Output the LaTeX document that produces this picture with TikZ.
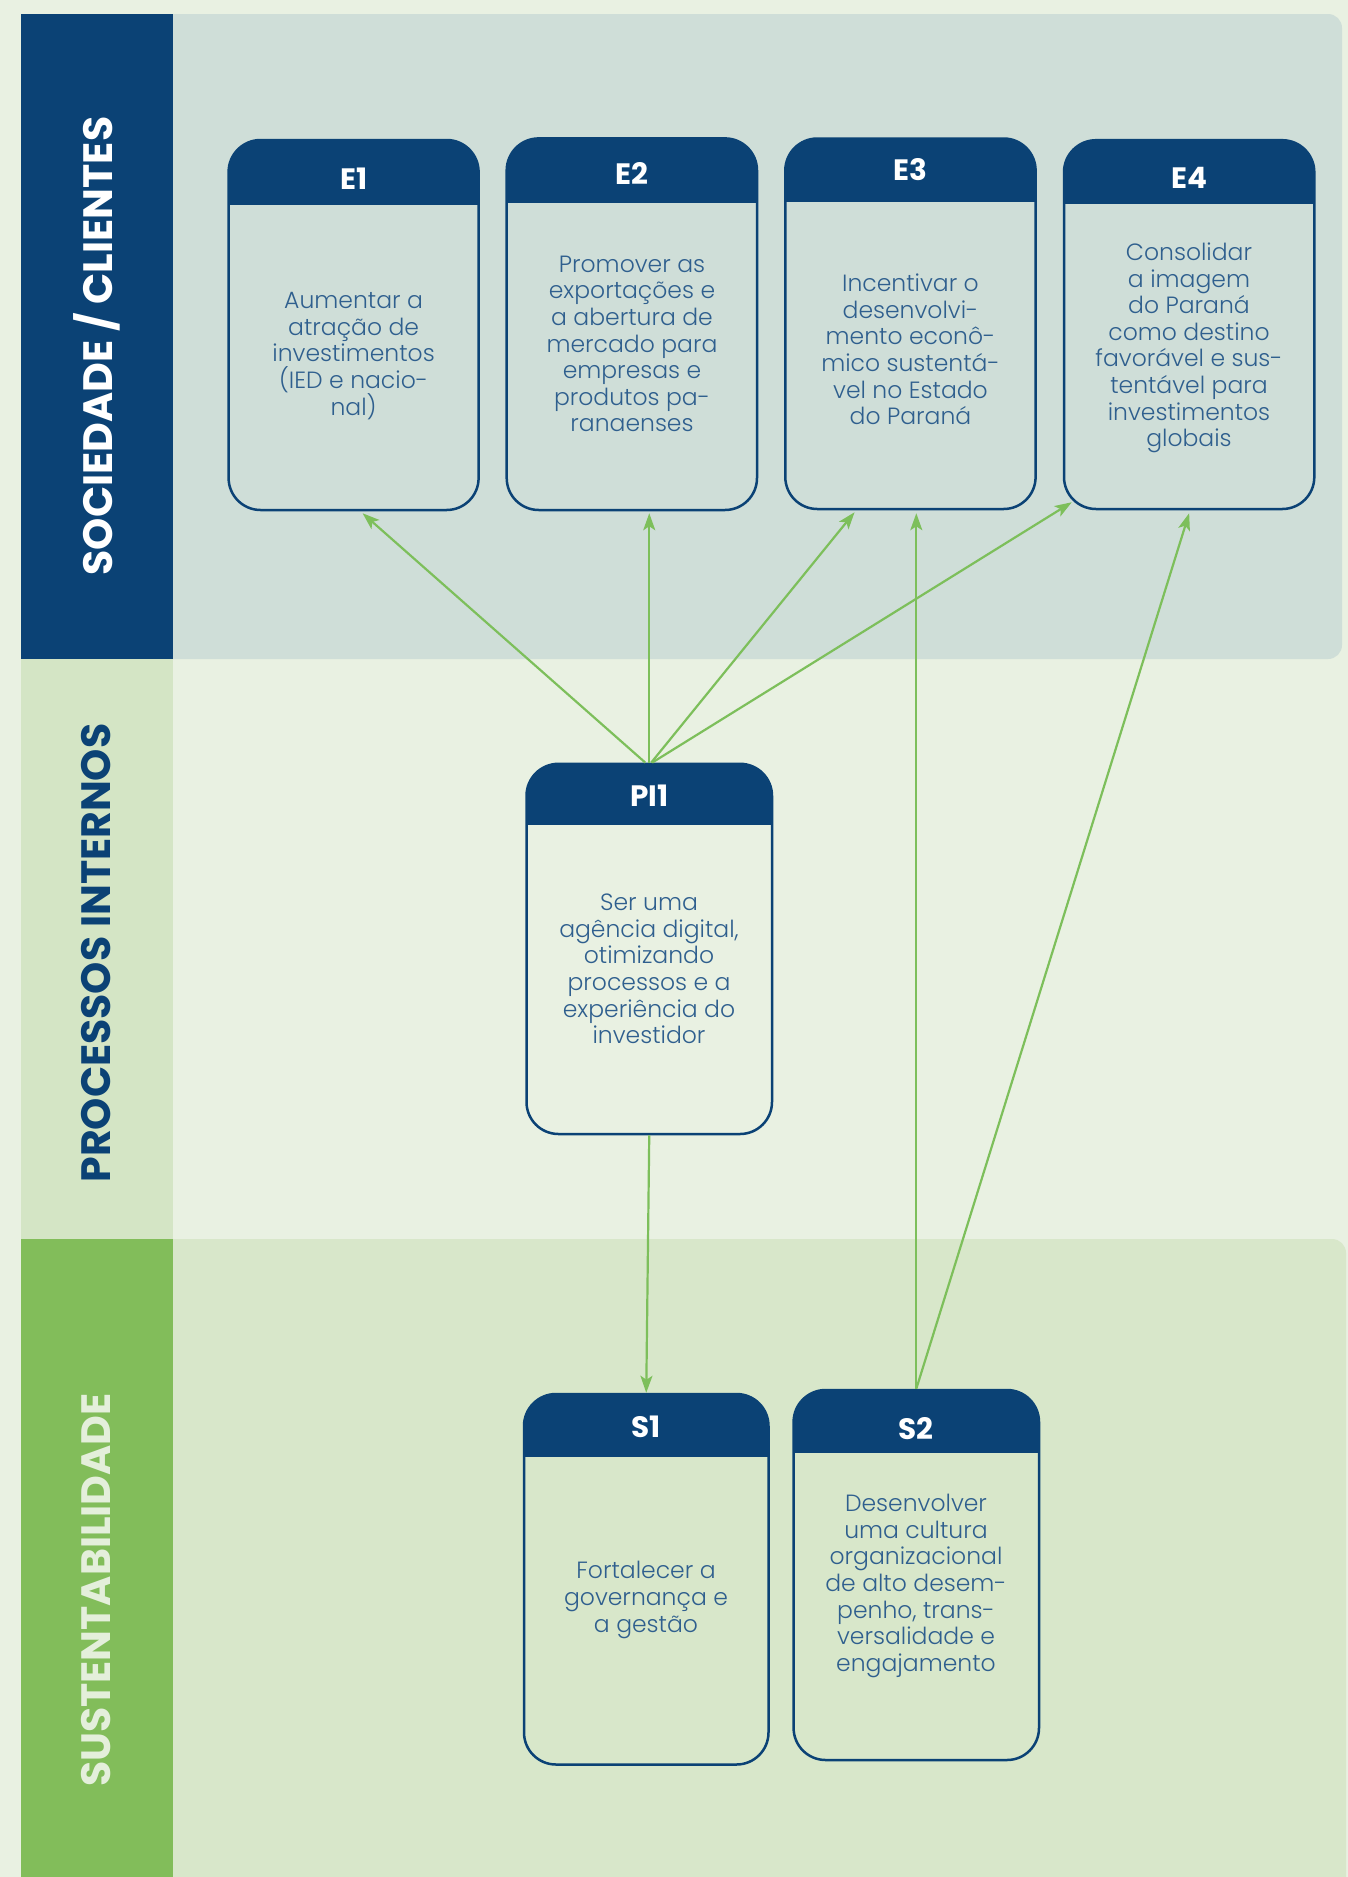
\documentclass[tikz,border=0pt]{standalone}
\usepackage{fontspec}
\usetikzlibrary{arrows.meta,calc}
\newfontfamily\popfont{Poppins}
\IfFontExistsTF{Poppins Light}{\newfontfamily\bodyfont{Poppins Light}}{\newfontfamily\bodyfont{Poppins}}
\definecolor{pagebg}{HTML}{E9F1E2}
\definecolor{bandone}{HTML}{0B4275}
\definecolor{panelone}{HTML}{CFDED8}
\definecolor{bandtwo}{HTML}{D4E5C5}
\definecolor{bandthree}{HTML}{82BD5A}
\definecolor{panelthree}{HTML}{D8E7CA}
\definecolor{hdrblue}{HTML}{0B4275}
\definecolor{txtblue}{HTML}{2F5F8E}
\definecolor{arrgreen}{HTML}{7DBF5B}
\definecolor{lightlbl}{HTML}{E4EFDB}
\tikzset{
  boxframe/.style={draw=hdrblue, line width=2.5pt, rounded corners=32pt, rectangle, inner sep=0pt},
  hdrlabel/.style={text=white, font=\popfont\bfseries\fontsize{29.5}{32}\selectfont, inner sep=0pt},
  bodytxt/.style={text=txtblue, align=center, inner sep=0pt, font=\bodyfont\fontsize{23.5}{26.6}\selectfont},
  bandtitle/.style={rotate=90, inner sep=0pt, font=\popfont\bfseries\fontsize{41}{44}\selectfont},
  arr/.style={draw=arrgreen, line width=2.2pt, -{Stealth[length=17pt,width=12pt,inset=4pt]}}
}
% #1 name, #2 x1, #3 y1, #4 x2, #5 y2, #6 header bottom, #7 label y, #8 label
\newcommand\mkbox[8]{%
  \begin{scope}
    \clip[rounded corners=32pt] (#2,#3) rectangle (#4,#5);
    \fill[hdrblue] (#2,#3) rectangle (#4,#6);
  \end{scope}
  \node[boxframe, minimum width={#4-#2}, minimum height={#5-#3}] (#1) at ({(#2+#4)/2},{(#3+#5)/2}) {};
  \node[hdrlabel] (#1l) at ({(#2+#4)/2},#7) {#8};
}
\begin{document}
\begin{tikzpicture}[x=1pt,y=-1pt]
\useasboundingbox (0,0) rectangle (1348,1877);
\fill[pagebg] (0,0) rectangle (1348,1877);
% panels
\fill[panelone, rounded corners=14pt] (150,14) rectangle (1342,659);
\fill[panelthree, rounded corners=14pt] (150,1239) rectangle (1346,1920);
% bands
\fill[bandone] (20.5,14) rectangle (172.5,659);
\fill[bandtwo] (20.5,659) rectangle (172.5,1239);
\fill[bandthree] (20.5,1239) rectangle (172.5,1920);
\node[bandtitle, text=white] (t1) at (96.5,346) {SOCIEDADE / CLIENTES};
\node[bandtitle, text=hdrblue] (t2) at (96.5,953) {PROCESSOS INTERNOS};
\node[bandtitle, text=lightlbl] (t3) at (96.5,1590) {SUSTENTABILIDADE};
% boxes
\mkbox{E1}{228.6}{140}{478.6}{510}{204.5}{178.6}{E1}
\mkbox{E2}{506.7}{138.4}{757}{510}{203}{173}{E2}
\mkbox{E3}{785.3}{138.5}{1035.6}{509}{201.7}{170}{E3}
\mkbox{E4}{1064}{140.2}{1314.3}{509}{204}{178}{E4}
\mkbox{PI1}{526.5}{763.8}{772}{1134}{825.4}{795.5}{PI1}
\mkbox{S1}{524}{1394}{768.5}{1764.5}{1457}{1427}{S1}
\mkbox{S2}{793.6}{1390}{1039}{1760}{1453}{1429}{S2}
% texts
\node[bodytxt] (E1t) at (353.6,356) {Aumentar a\\atração de\\investimentos\\(IED e nacio-\\nal)};
\node[bodytxt] (E2t) at (632,344) {Promover as\\exportações e\\a abertura de\\mercado para\\empresas e\\produtos pa-\\ranaenses};
\node[bodytxt] (E3t) at (910.5,349.5) {Incentivar o\\desenvolvi-\\mento econô-\\mico sustentá-\\vel no Estado\\do Paraná};
\node[bodytxt] (E4t) at (1189,348) {Consolidar\\a imagem\\do Paraná\\como destino\\favorável e sus-\\tentável para\\investimentos\\globais};
\node[bodytxt] (PI1t) at (649,969) {Ser uma\\agência digital,\\otimizando\\processos e a\\experiência do\\investidor};
\node[bodytxt] (S1t) at (646,1600) {Fortalecer a\\governança e\\a gestão};
\node[bodytxt] (S2t) at (916,1586) {Desenvolver\\uma cultura\\organizacional\\de alto desem-\\penho, trans-\\versalidade e\\engajamento};
% connectors
\draw[arr] ($(PI1.north)+(-4,0)$) -- ($(E1.south)+(9,2)$);
\draw[arr] (PI1.north) -- ($(PI1.north |- E2.south)+(0,2)$);
\draw[arr] ($(PI1.north)+(2,0)$) -- ($(E3.south west)+(70.5,2)$);
\draw[arr] ($(PI1.north)+(3,0)$) -- ($(E4.south west)+(9,-8)$);
\draw[arr] (PI1.south) -- (S1.north);
\draw[arr] (S2.north) -- ($(S2.north |- E3.south)+(0,3)$);
\draw[arr] (S2.north) -- ($(E4.south)+(0,3)$);
\end{tikzpicture}
\end{document}
